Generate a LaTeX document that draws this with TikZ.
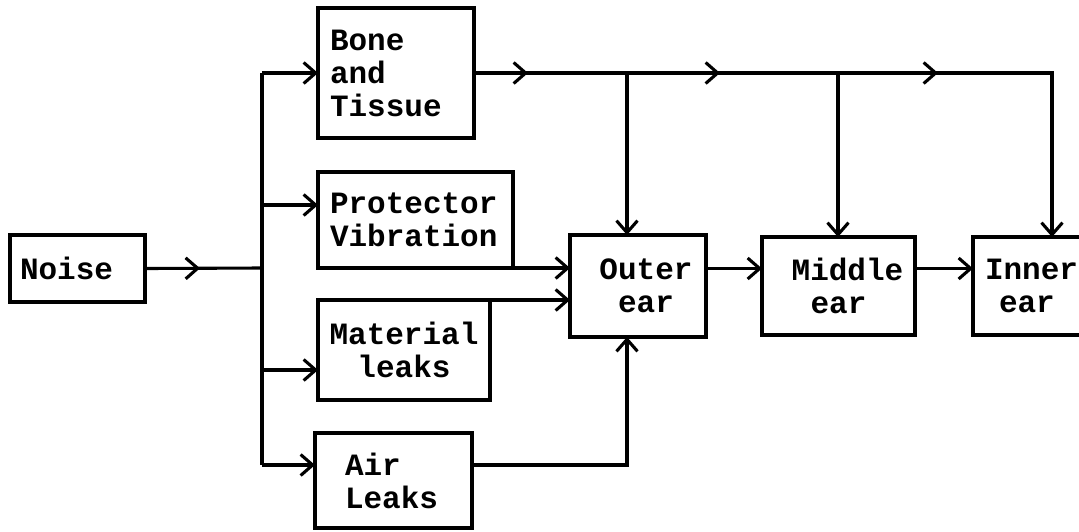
\documentclass[tikz,border=0pt]{standalone}
\usepackage{fontspec}
\setmonofont{Liberation Mono}
\usetikzlibrary{arrows.meta,decorations.markings}
\tikzset{
  lw/.style={line width=3.1pt},
  box/.style={draw, lw, anchor=north west, font=\ttfamily\bfseries\fontsize{31}{33}\selectfont, inner ysep=0pt, outer sep=0pt},
  tip/.style={-{Straight Barb[length=12pt,width=21pt]}},
  wire/.style={lw},
  midtip/.style={postaction={decorate}, decoration={markings, mark=at position #1 with {\arrow{Straight Barb[length=12pt,width=21pt]}}}},
}
\begin{document}
\begin{tikzpicture}[x=1pt,y=-1pt]
\useasboundingbox (0,0) rectangle (1079,531);
\clip (0,0) rectangle (1079,531);
% boxes
\node[box, align=left, text width=115pt, inner xsep=10pt, minimum height=67pt] (noise) at (10,235) {Noise};
\node[box, align=left, text width=132pt, inner xsep=12pt, minimum height=130pt] (bone) at (318,8) {Bone\\and\\Tissue};
\node[box, align=left, text width=171pt, inner xsep=12pt, minimum height=96pt] (prot) at (318,172) {Protector\\Vibration};
\node[box, align=center, text width=156pt, inner xsep=8pt, minimum height=100pt] (mat) at (318,300) {Material\\leaks};
\node[box, align=left, text width=97pt, inner xsep=30pt, minimum height=95pt] (air) at (315,433) {Air\\Leaks};
\node[box, align=center, text width=120pt, inner xsep=8pt, minimum height=102pt] (outer) at (570,235) {\hspace*{16pt}Outer\\\hspace*{16pt}ear};
\node[box, align=center, text width=137pt, inner xsep=8pt, minimum height=98pt] (middle) at (762,237) {\hspace*{18pt}Middle\\ear};
\node[box, align=left, text width=106pt, inner xsep=12pt, minimum height=98pt] (inner) at (973,237) {Inner\\\hspace*{14pt}ear};
% bus
\coordinate (b0) at (262,73);
\coordinate (bn) at (262,268);
\coordinate (b2) at (262,205);
\coordinate (b3) at (262,370);
\coordinate (b4) at (262,465);
\coordinate (j1) at (627,73);
\coordinate (j2) at (838,73);
\coordinate (j3) at (1052,73);
\draw[wire] (b0) -- (b4);
\draw[wire, midtip=55pt] (noise.east) -- (bn);
\draw[wire, tip] (b0) -- (bone.west);
\draw[wire, tip] (b2) -- (b2 -| prot.west);
\draw[wire, tip] (b3) -- (b3 -| mat.west);
\draw[wire, tip] (b4) -- (b4 -| air.west);
\draw[wire, tip] (prot.south east) -- (prot.south east -| outer.west);
\draw[wire, tip] (mat.north east) -- (mat.north east -| outer.west);
\draw[wire, midtip=54pt] (bone.east) -- (j1);
\draw[wire, midtip=93pt] (j1) -- (j2);
\draw[wire, midtip=100pt, tip] (j2) -- (j3) -- (j3 |- inner.north);
\draw[wire, tip] (j1) -- (j1 |- outer.north);
\draw[wire, tip] (j2) -- (j2 |- middle.north);
\draw[wire, tip] (air.east |- b4) -| (j1 |- outer.south);
\draw[wire, tip] (outer.east |- noise.east) -- (middle.west |- noise.east);
\draw[wire, tip] (middle.east |- noise.east) -- (inner.west |- noise.east);
\end{tikzpicture}
\end{document}
